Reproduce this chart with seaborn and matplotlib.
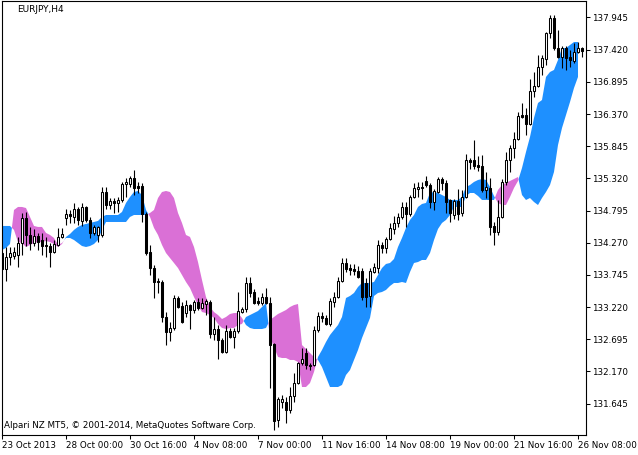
import numpy as np
import pandas as pd
import matplotlib
matplotlib.use("Agg")
import matplotlib.pyplot as plt
import seaborn as sns

symbol_label = "EURJPY,H4"
copyright_label = "Alpari NZ MT5, \u00a9 2001-2014, MetaQuotes Software Corp."

x_tick_bars = [0, 16, 32, 48, 64, 80, 96, 112, 128, 144]
x_tick_labels = ["23 Oct 2013", "28 Oct 00:00", "30 Oct 16:00", "4 Nov 08:00",
                 "7 Nov 00:00", "11 Nov 16:00", "14 Nov 08:00", "19 Nov 00:00",
                 "21 Nov 16:00", "26 Nov 08:00"]
y_ticks = [131.645, 132.170, 132.695, 133.220, 133.745, 134.270, 134.795,
           135.320, 135.845, 136.370, 136.895, 137.420, 137.945]

open_ = [
    134.103, 133.842, 134.038, 134.054, 134.070, 134.266, 134.675, 134.397, 134.266, 134.381,
    134.315, 134.234, 134.217, 134.119, 134.234, 134.365, 134.675, 134.740, 134.691, 134.821,
    134.626, 134.854, 134.642, 134.430, 134.397, 134.397, 135.098, 134.886, 134.952, 134.919,
    134.968, 135.229, 135.229, 135.327, 135.196, 135.196, 134.740, 134.119, 133.858, 133.647,
    133.630, 133.059, 132.814, 132.880, 133.369, 133.238, 133.124, 133.254, 133.173, 133.303,
    133.205, 133.271, 133.303, 132.782, 132.863, 132.684, 132.488, 132.831, 132.733, 132.831,
    133.140, 133.189, 133.614, 133.467, 133.320, 133.287, 133.385, 133.287, 132.619, 131.379,
    131.672, 131.672, 131.542, 131.770, 131.982, 132.309, 132.472, 132.276, 132.276, 132.847,
    133.075, 133.043, 132.945, 133.303, 133.385, 133.647, 133.940, 133.858, 133.842, 133.809,
    133.809, 133.614, 133.402, 133.793, 133.858, 134.234, 134.185, 134.332, 134.495, 134.593,
    134.691, 134.854, 134.740, 135.017, 135.147, 135.180, 135.278, 135.212, 134.935, 135.098,
    135.310, 135.245, 134.968, 134.723, 134.952, 134.756, 135.017, 135.621, 135.621, 135.539,
    135.523, 135.131, 135.164, 134.544, 134.446, 134.691, 135.262, 135.621, 135.816, 135.963,
    136.354, 136.354, 136.208, 136.746, 136.827, 137.137, 137.268, 137.692, 137.937, 137.447,
    137.301, 137.447, 137.301, 137.235, 137.382, 137.447]

high = [
    134.119, 134.201, 134.201, 134.201, 134.365, 134.756, 134.772, 134.528, 134.495, 134.430,
    134.430, 134.365, 134.266, 134.315, 134.512, 134.512, 134.821, 134.805, 134.919, 134.854,
    134.919, 134.870, 134.691, 134.560, 134.544, 135.180, 135.180, 135.000, 135.000, 135.017,
    135.262, 135.327, 135.359, 135.457, 135.262, 135.245, 134.772, 134.234, 133.907, 133.696,
    133.663, 133.140, 132.977, 133.418, 133.402, 133.303, 133.336, 133.271, 133.336, 133.369,
    133.369, 133.353, 133.336, 133.059, 132.928, 132.716, 132.928, 132.880, 132.880, 133.467,
    133.222, 133.712, 133.712, 133.516, 133.385, 133.451, 133.532, 133.385, 132.635, 131.754,
    131.786, 131.754, 131.917, 132.145, 132.325, 132.553, 132.553, 132.309, 132.912, 133.140,
    133.140, 133.091, 133.369, 133.467, 133.712, 134.021, 134.021, 133.924, 133.924, 133.891,
    133.858, 133.695, 133.858, 133.940, 134.315, 134.282, 134.365, 134.593, 134.707, 134.756,
    134.935, 134.935, 135.049, 135.245, 135.262, 135.262, 135.359, 135.245, 135.147, 135.343,
    135.343, 135.294, 134.984, 134.984, 135.147, 135.131, 135.718, 135.653, 135.947, 135.686,
    135.702, 135.425, 135.327, 134.609, 134.968, 135.310, 135.751, 135.866, 136.077, 136.403,
    136.550, 136.469, 136.942, 137.056, 137.333, 137.333, 137.708, 137.986, 137.986, 137.741,
    137.480, 137.480, 137.415, 137.529, 137.545, 137.464]

low = [
    133.826, 133.647, 133.907, 134.005, 133.875, 134.070, 134.217, 134.152, 134.217, 134.152,
    134.070, 134.038, 133.875, 134.103, 134.217, 134.348, 134.560, 134.593, 134.593, 134.560,
    134.544, 134.609, 134.348, 134.397, 134.282, 134.365, 134.821, 134.821, 134.756, 134.772,
    134.935, 135.017, 135.180, 135.049, 135.082, 134.609, 134.070, 133.744, 133.369, 133.451,
    132.977, 132.602, 132.668, 132.847, 133.205, 132.961, 133.059, 132.863, 133.124, 133.173,
    133.189, 133.091, 132.716, 132.684, 132.374, 132.472, 132.472, 132.716, 132.553, 132.798,
    133.124, 133.140, 133.385, 133.271, 133.254, 133.254, 133.271, 131.901, 131.216, 131.265,
    131.574, 131.330, 131.493, 131.672, 131.966, 132.276, 132.211, 132.194, 132.260, 132.814,
    132.977, 132.928, 132.912, 133.222, 133.369, 133.630, 133.793, 133.744, 133.744, 133.695,
    133.336, 133.222, 133.222, 133.777, 133.777, 134.103, 134.103, 134.315, 134.413, 134.528,
    134.658, 134.528, 134.707, 135.000, 135.017, 134.984, 135.180, 134.837, 134.805, 135.082,
    135.131, 134.756, 134.609, 134.658, 134.642, 134.707, 135.000, 135.474, 135.474, 135.441,
    135.098, 135.000, 134.397, 134.234, 134.397, 134.675, 135.212, 135.425, 135.653, 135.947,
    136.306, 136.028, 136.191, 136.648, 136.811, 137.007, 137.170, 137.610, 137.415, 137.284,
    137.121, 137.089, 137.138, 137.203, 137.366, 137.301]

close = [
    133.842, 134.038, 134.103, 134.119, 134.266, 134.675, 134.397, 134.266, 134.381, 134.282,
    134.217, 134.217, 134.119, 134.250, 134.365, 134.414, 134.740, 134.707, 134.821, 134.642,
    134.854, 134.642, 134.430, 134.528, 134.528, 135.098, 134.886, 134.952, 134.919, 134.968,
    135.229, 135.262, 135.327, 135.164, 135.164, 134.740, 134.103, 133.858, 133.630, 133.630,
    133.059, 132.814, 132.880, 133.369, 133.222, 132.977, 133.254, 133.173, 133.303, 133.205,
    133.287, 133.320, 132.782, 132.863, 132.684, 132.488, 132.831, 132.733, 132.831, 133.157,
    133.189, 133.614, 133.451, 133.287, 133.287, 133.385, 133.287, 132.602, 131.363, 131.721,
    131.721, 131.542, 131.770, 131.982, 132.309, 132.374, 132.276, 132.260, 132.847, 133.075,
    133.043, 132.945, 133.320, 133.385, 133.647, 133.940, 133.842, 133.826, 133.809, 133.712,
    133.385, 133.385, 133.809, 133.875, 134.234, 134.185, 134.332, 134.512, 134.593, 134.691,
    134.854, 134.740, 135.017, 135.164, 135.180, 135.164, 135.212, 134.935, 135.115, 135.310,
    135.245, 134.935, 134.756, 134.952, 134.740, 135.017, 135.621, 135.588, 135.523, 135.506,
    135.131, 135.180, 134.528, 134.446, 134.691, 135.262, 135.621, 135.816, 135.963, 136.338,
    136.322, 136.208, 136.746, 136.827, 137.137, 137.284, 137.692, 137.937, 137.447, 137.301,
    137.447, 137.284, 137.252, 137.382, 137.447, 137.399]

span_a = [
    134.544, 134.544, 134.544, 134.479, 134.282, 134.266, 134.201, 134.234, 134.266, 134.282,
    134.282, 134.299, 134.282, 134.250, 134.201, 134.250, 134.365, 134.413, 134.479, 134.528,
    134.560, 134.577, 134.593, 134.609, 134.626, 134.691, 134.723, 134.723, 134.723, 134.723,
    134.772, 134.919, 135.017, 135.098, 135.115, 135.049, 134.805, 134.691, 134.512, 134.397,
    134.234, 134.103, 134.021, 133.940, 133.858, 133.744, 133.630, 133.532, 133.385, 133.254,
    133.140, 133.124, 133.091, 133.043, 132.945, 132.880, 132.863, 132.880, 132.880, 132.928,
    132.945, 133.059, 133.091, 133.124, 133.157, 133.222, 133.287, 132.733, 132.570, 132.407,
    132.390, 132.390, 132.358, 132.358, 132.325, 131.917, 131.917, 131.982, 132.162, 132.407,
    132.521, 132.651, 132.765, 132.847, 132.928, 133.059, 133.369, 133.402, 133.451, 133.549,
    133.614, 133.614, 133.614, 133.630, 133.744, 133.858, 133.924, 133.940, 134.005, 134.201,
    134.348, 134.512, 134.642, 134.723, 134.854, 134.903, 134.919, 135.082, 135.098, 135.082,
    135.049, 135.017, 134.968, 134.968, 134.968, 135.017, 135.180, 135.212, 135.262, 135.294,
    135.310, 135.294, 135.180, 135.033, 134.919, 134.886, 134.886, 135.017, 135.164, 135.278,
    135.490, 135.751, 135.996, 136.306, 136.550, 136.599, 136.975, 137.056, 137.089, 137.252,
    137.447, 137.447, 137.496, 137.545, 137.545, np.nan]

span_b = [
    134.152, 134.185, 134.250, 134.805, 134.854, 134.854, 134.837, 134.691, 134.544, 134.528,
    134.528, 134.430, 134.397, 134.348, 134.234, 134.266, 134.348, 134.348, 134.315, 134.266,
    134.217, 134.201, 134.217, 134.250, 134.315, 134.479, 134.609, 134.609, 134.609, 134.609,
    134.609, 134.609, 134.691, 134.723, 134.723, 134.723, 134.723, 134.756, 134.805, 135.000,
    135.098, 135.115, 135.098, 135.000, 134.756, 134.593, 134.397, 134.365, 134.201, 133.956,
    133.663, 133.385, 133.222, 133.140, 133.091, 133.026, 133.059, 133.108, 133.124, 133.124,
    133.043, 132.928, 132.880, 132.863, 132.863, 132.863, 132.880, 133.010, 133.059, 133.108,
    133.140, 133.173, 133.222, 133.254, 133.271, 132.602, 132.537, 132.472, 132.407, 132.358,
    132.243, 132.080, 131.917, 131.917, 131.917, 131.950, 132.113, 132.194, 132.358, 132.521,
    132.716, 132.880, 133.043, 133.402, 133.451, 133.467, 133.500, 133.565, 133.614, 133.614,
    133.630, 133.614, 133.793, 133.940, 133.956, 133.989, 133.989, 134.103, 134.315, 134.495,
    134.593, 134.642, 134.723, 134.854, 134.854, 134.854, 135.033, 135.082, 135.082, 135.033,
    134.968, 134.968, 134.968, 134.968, 135.131, 135.212, 135.245, 135.278, 135.310, 135.343,
    135.049, 134.968, 135.000, 134.935, 134.886, 135.000, 135.098, 135.212, 135.425, 135.865,
    136.142, 136.354, 136.566, 136.795, 136.975, np.nan]

sns.set_theme(style="white")
plt.rcParams["font.family"] = ["DejaVu Sans"]

df = pd.DataFrame({"open": open_, "high": high, "low": low, "close": close,
                   "span_a": span_a, "span_b": span_b})
df["bar"] = np.arange(len(df))

W, H = 638, 455
fig = plt.figure(figsize=(W / 100, H / 100), dpi=100)
fig.patch.set_facecolor("white")
ax = fig.add_axes([2 / W, 20 / H, 584 / W, 434 / H])
ax.set_facecolor("white")

x = df["bar"].to_numpy()
a = df["span_a"].to_numpy()
b = df["span_b"].to_numpy()
with np.errstate(invalid="ignore"):
    up = a >= b
    dn = a <= b
ax.fill_between(x, a, b, where=up, interpolate=True, color="#1E90FF", lw=0, zorder=1)
ax.fill_between(x, a, b, where=dn, interpolate=True, color="#DA70D6", lw=0, zorder=1)

o = df["open"].to_numpy(); c = df["close"].to_numpy()
ax.vlines(x, df["low"], df["high"], color="black", lw=0.8, zorder=2)
bull = c >= o
ax.bar(x[bull], (c - o)[bull], bottom=o[bull], width=0.55, color="white",
       edgecolor="black", linewidth=0.75, zorder=3)
ax.bar(x[~bull], (o - c)[~bull], bottom=c[~bull], width=0.55, color="black",
       edgecolor="black", linewidth=0.75, zorder=3)

ax.set_xlim(0, 146)
ax.set_ylim(131.134, 138.214)
ax.grid(False)

ax.yaxis.tick_right()
ax.set_yticks(y_ticks)
ax.set_yticklabels([f"{v:.3f}" for v in y_ticks])
ax.set_xticks(x_tick_bars)
ax.set_xticklabels(x_tick_labels, ha="left")
ax.tick_params(axis="both", direction="out", length=3, width=0.75, color="black",
               labelsize=6.3, labelcolor="black")
ax.tick_params(axis="x", bottom=True, top=False, pad=1)
ax.tick_params(axis="y", right=True, left=False, pad=1.5)
for s in ax.spines.values():
    s.set_visible(True)
    s.set_color("black")
    s.set_linewidth(0.8)

fig.text(17 / W, 1 - 10 / H, symbol_label, fontsize=6.5, va="center", ha="left", color="black")
fig.text(4 / W, 1 - 425.5 / H, copyright_label, fontsize=6.3, va="center", ha="left", color="black")

fig.savefig("out.png", dpi=100)
